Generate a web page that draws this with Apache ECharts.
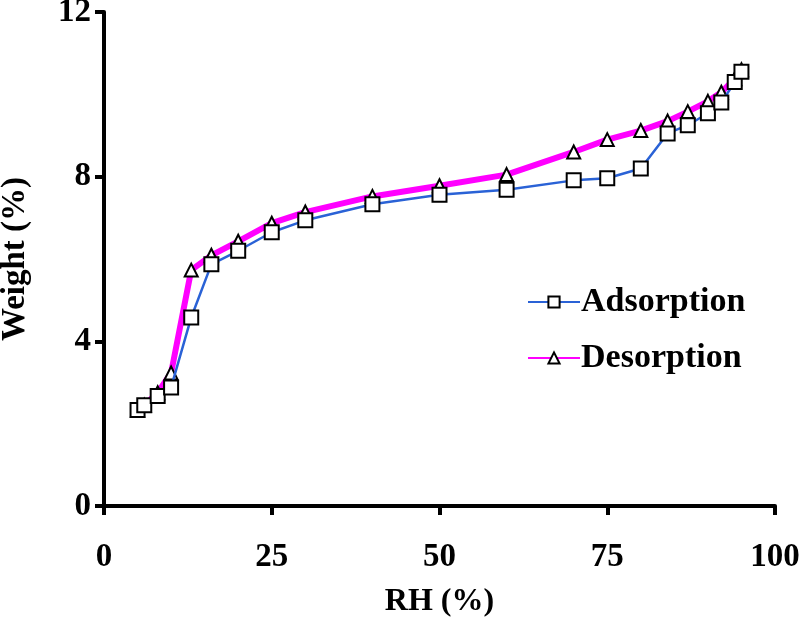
<!DOCTYPE html>
<html>
<head>
<meta charset="utf-8">
<script src="https://cdn.jsdelivr.net/npm/echarts@6/dist/echarts.min.js"></script>
<style>html,body{margin:0;padding:0;background:#fff}#c{width:799px;height:617px}</style>
</head>
<body>
<div id="c"></div>
<script>
const rh = [5, 6, 8, 10, 13, 16, 20, 25, 30, 40, 50, 60, 70, 75, 80, 84, 87, 90, 92, 94, 95];
const adsorption = [2.33, 2.45, 2.67, 2.88, 4.58, 5.87, 6.2, 6.65, 6.94, 7.33, 7.56, 7.68, 7.91, 7.96, 8.2, 9.05, 9.25, 9.54, 9.8, 10.3, 10.55];
const desorption = [2.33, 2.45, 2.75, 3.23, 5.73, 6.09, 6.43, 6.87, 7.14, 7.52, 7.78, 8.05, 8.6, 8.9, 9.12, 9.35, 9.58, 9.83, 10.05, 10.38, 10.6];
const xTicks = [0, 25, 50, 75, 100];
const yTicks = [0, 4, 8, 12];

const font = 'Liberation Serif, Times New Roman, serif';
const chart = echarts.init(document.getElementById('c'));
const axisLine = {show: true, lineStyle: {color: '#000', width: 4}};
const axisTick = {show: true, length: 9, lineStyle: {color: '#000', width: 4}};
chart.setOption({
  animation: false,
  backgroundColor: '#fff',
  grid: {left: 104, right: 24, top: 12, bottom: 111, outerBoundsMode: 'none', containLabel: false},
  legend: {
    orient: 'vertical', left: 522, top: 280, itemGap: 22,
    itemWidth: 52, itemHeight: 14,
    textStyle: {fontFamily: font, fontWeight: 'bold', fontSize: 34, color: '#000', padding: [0, 0, 0, -4]},
    data: [{name: 'Adsorption'}, {name: 'Desorption'}]
  },
  xAxis: {
    type: 'value', min: xTicks[0], max: xTicks[xTicks.length - 1], interval: 25,
    axisLine, axisTick, splitLine: {show: false},
    axisLabel: {margin: 35, fontFamily: font, fontWeight: 'bold', fontSize: 33, color: '#000'},
    name: 'RH (%)', nameLocation: 'middle', nameGap: 80,
    nameTextStyle: {fontFamily: font, fontWeight: 'bold', fontSize: 32, color: '#000'}
  },
  yAxis: {
    type: 'value', min: yTicks[0], max: yTicks[yTicks.length - 1], interval: 4,
    axisLine, axisTick, splitLine: {show: false},
    axisLabel: {margin: 13, fontFamily: font, fontWeight: 'bold', fontSize: 33, color: '#000'},
    name: 'Weight (%)', nameLocation: 'middle', nameGap: 72,
    nameTextStyle: {fontFamily: font, fontWeight: 'bold', fontSize: 33, color: '#000'}
  },
  series: [
    {
      name: 'Adsorption', type: 'line', data: rh.map((x, i) => [x, adsorption[i]]),
      symbol: 'rect', symbolSize: 14, z: 3,
      lineStyle: {color: '#2a62d6', width: 2.5},
      itemStyle: {color: '#fff', borderColor: '#000', borderWidth: 2}
    },
    {
      name: 'Desorption', type: 'line', data: rh.map((x, i) => [x, desorption[i]]),
      symbol: 'triangle', symbolSize: 13, z: 2,
      lineStyle: {color: '#ff00ff', width: 6},
      itemStyle: {color: '#fff', borderColor: '#000', borderWidth: 2}
    }
  ]
});
</script>
</body>
</html>
